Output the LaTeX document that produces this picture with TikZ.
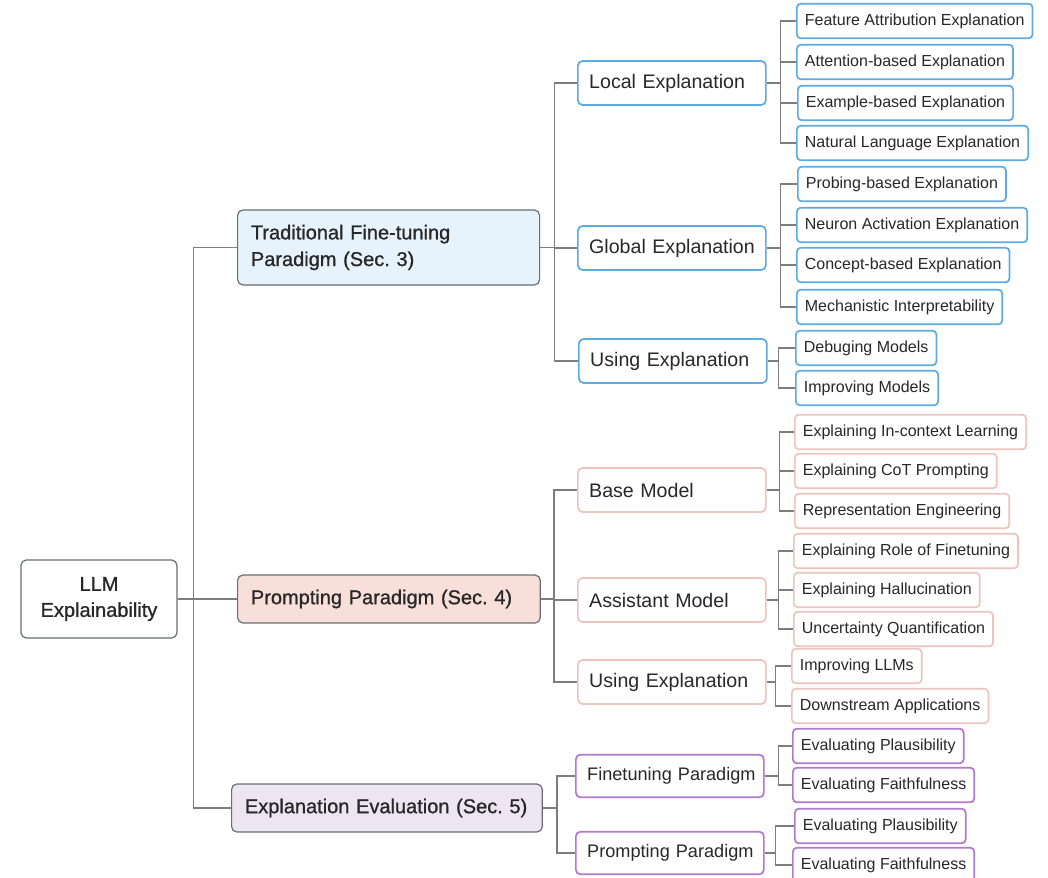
\documentclass[tikz,border=0pt]{standalone}
\usepackage{fontspec}
\setmainfont{Liberation Sans}
\newfontfamily\semib{Liberation Sans}[FakeBold=1.0]
\frenchspacing
\definecolor{ink}{RGB}{40,40,40}
\definecolor{linegray}{RGB}{125,125,125}
\definecolor{topgray}{RGB}{105,110,115}
\definecolor{blueB}{RGB}{92,172,226}
\definecolor{blueF}{RGB}{230,243,252}
\definecolor{pinkB}{RGB}{238,196,190}
\definecolor{pinkF}{RGB}{248,223,218}
\definecolor{purpB}{RGB}{176,122,206}
\definecolor{purpF}{RGB}{238,229,242}
\tikzset{
  conn/.style={draw=linegray, line width=0.95pt},
  rootbox/.style={draw=topgray, line width=0.9pt, rounded corners=4pt, fill=white,
    minimum width=117pt, minimum height=58.5pt, align=center, text=ink,
    font=\semib\fontsize{15}{19.5}\selectfont},
  topbox/.style={draw=topgray, line width=0.9pt, rounded corners=4pt, anchor=west,
    minimum height=36pt, inner xsep=10pt, align=left, text=ink,
    font=\semib\fontsize{15}{20}\selectfont},
  midbox/.style={line width=1.3pt, rounded corners=3.5pt, fill=white, anchor=west,
    minimum height=33pt, inner xsep=8.5pt, text width=124pt, align=left, text=ink,
    font=\fontsize{14.7}{18}\selectfont},
  evalmid/.style={midbox, minimum height=32pt, font=\fontsize{13.6}{16}\selectfont},
  leafbox/.style={line width=1.3pt, rounded corners=3pt, fill=white, anchor=west,
    minimum height=26pt, inner xsep=6pt, text=ink,
    font=\fontsize{12}{14}\selectfont},
}
\begin{document}
\begin{tikzpicture}[x=0.75pt,y=-0.75pt]
\clip (0,0) rectangle (1048,877);
\fill[white] (0,0) rectangle (1048,877);

% root and the three paradigms
\node[rootbox] (root) at (99,599) {LLM\\Explainability};
\node[topbox, fill=blueF, text width=206.5pt, minimum height=56.25pt] (trad) at (237,247.5)
  {Traditional Fine-tuning\\Paradigm (Sec. 3)};
\node[topbox, fill=pinkF, text width=207pt] (prompt) at (237,599)
  {\mbox{Prompting Paradigm (Sec. 4)}};
\node[topbox, fill=purpF, text width=213pt] (evalu) at (231,808)
  {\mbox{Explanation Evaluation (Sec. 5)}};

% second level
\node[midbox, draw=blueB] (local)  at (577,83)  {\mbox{Local Explanation}};
\node[midbox, draw=blueB] (global) at (577,248) {\mbox{Global Explanation}};
\node[midbox, draw=blueB] (useb)   at (578,361) {\mbox{Using Explanation}};
\node[midbox, draw=pinkB] (base)   at (577,490) {\mbox{Base Model}};
\node[midbox, draw=pinkB] (assist) at (577,600) {\mbox{Assistant Model}};
\node[midbox, draw=pinkB] (usep)   at (577,682) {\mbox{Using Explanation}};
\node[evalmid, draw=purpB] (finet) at (575,776) {\mbox{Finetuning Paradigm}};
\node[evalmid, draw=purpB] (promp) at (575,853) {\mbox{Prompting Paradigm}};

% leaves: traditional fine-tuning
\node[leafbox, draw=blueB] (fa) at (796,21)  {Feature Attribution Explanation};
\node[leafbox, draw=blueB] (ab) at (796,62)  {Attention-based Explanation};
\node[leafbox, draw=blueB] (eb) at (797,103) {Example-based Explanation};
\node[leafbox, draw=blueB] (nl) at (796,143) {Natural Language Explanation};
\node[leafbox, draw=blueB] (pb) at (797,184) {Probing-based Explanation};
\node[leafbox, draw=blueB] (na) at (796,225) {Neuron Activation Explanation};
\node[leafbox, draw=blueB] (cb) at (796,265) {Concept-based Explanation};
\node[leafbox, draw=blueB] (mi) at (796,307) {Mechanistic Interpretability};
\node[leafbox, draw=blueB] (dm) at (795,348) {Debuging Models};
\node[leafbox, draw=blueB] (im) at (795,388) {Improving Models};

% leaves: prompting
\node[leafbox, draw=pinkB] (icl)  at (794,432) {Explaining In-context Learning};
\node[leafbox, draw=pinkB] (cot)  at (794,471) {Explaining CoT Prompting};
\node[leafbox, draw=pinkB] (reng) at (794,511) {Representation Engineering};
\node[leafbox, draw=pinkB] (rof)  at (793,551) {Explaining Role of Finetuning};
\node[leafbox, draw=pinkB] (hal)  at (793,590) {Explaining Hallucination};
\node[leafbox, draw=pinkB] (uq)   at (793,629) {Uncertainty Quantification};
\node[leafbox, draw=pinkB] (illm) at (791,666) {Improving LLMs};
\node[leafbox, draw=pinkB] (dsa)  at (791,706) {Downstream Applications};

% leaves: evaluation
\node[leafbox, draw=purpB] (pl1) at (792,746) {Evaluating Plausibility};
\node[leafbox, draw=purpB] (fh1) at (792,785) {Evaluating Faithfulness};
\node[leafbox, draw=purpB] (pl2) at (794,826) {Evaluating Plausibility};
\node[leafbox, draw=purpB] (fh2) at (792,865) {Evaluating Faithfulness};

% connectors
\foreach \c in {trad,prompt,evalu} \draw[conn] (root.east) -- ++(16,0) |- (\c.west);
\foreach \c in {local,global,useb} \draw[conn] (trad.east) -- ++(14,0) |- (\c.west);
\foreach \c in {base,assist,usep} \draw[conn] (prompt.east) -- ++(13,0) |- (\c.west);
\foreach \c in {finet,promp} \draw[conn] (evalu.east) -- ++(14,0) |- (\c.west);
\foreach \c in {fa,ab,eb,nl} \draw[conn] (local.east) -- ++(14,0) |- (\c.west);
\foreach \c in {pb,na,cb,mi} \draw[conn] (global.east) -- ++(14,0) |- (\c.west);
\foreach \c in {dm,im} \draw[conn] (useb.east) -- ++(11,0) |- (\c.west);
\foreach \c in {icl,cot,reng} \draw[conn] (base.east) -- ++(13,0) |- (\c.west);
\foreach \c in {rof,hal,uq} \draw[conn] (assist.east) -- ++(12,0) |- (\c.west);
\foreach \c in {illm,dsa} \draw[conn] (usep.east) -- ++(9,0) |- (\c.west);
\foreach \c in {pl1,fh1} \draw[conn] (finet.east) -- ++(14,0) |- (\c.west);
\foreach \c in {pl2,fh2} \draw[conn] (promp.east) -- ++(11,0) |- (\c.west);
\end{tikzpicture}
\end{document}
